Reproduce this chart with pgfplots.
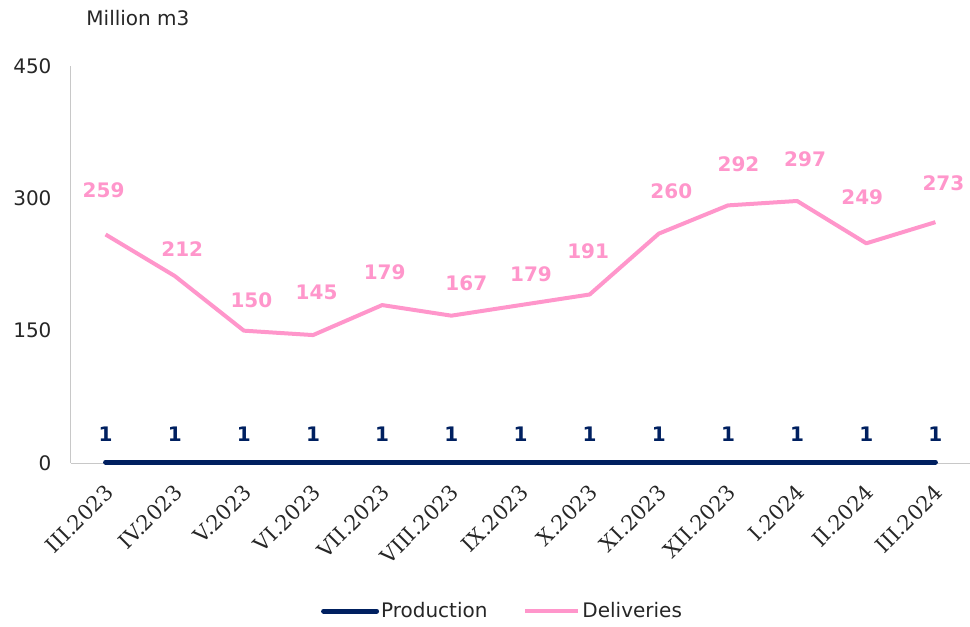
\documentclass[border=0pt]{standalone}
\usepackage{fontspec}
\setmainfont{DejaVu Sans}
\newfontfamily\serifx{DejaVu Serif}
\usepackage{pgfplots}
\pgfplotsset{compat=1.18}
\definecolor{cPink}{HTML}{FF96CB}
\definecolor{cNavy}{HTML}{002060}
\definecolor{cAx}{HTML}{C8C8C8}
\definecolor{cInk}{HTML}{262626}
\newcommand{\bigtxt}{\fontsize{20}{24}\selectfont}
\tikzset{dl/.style={font=\bigtxt\bfseries, text=cPink}}

\begin{document}
\begin{tikzpicture}
\begin{axis}[
  scale only axis, width=899pt, height=397pt,
  xmin=-0.5, xmax=12.5, ymin=0, ymax=450,
  axis x line=bottom, axis y line=left,
  axis line style={-, draw=cAx, line width=1pt},
  major tick length=0pt,
  ytick={0,150,300,450},
  y tick label style={font=\bigtxt, color=cInk, xshift=-16pt},
  /pgf/number format/assume math mode=true,
  xtick={0,...,12},
  xticklabels={III.2023,IV.2023,V.2023,VI.2023,VII.2023,VIII.2023,IX.2023,X.2023,XI.2023,XII.2023,I.2024,II.2024,III.2024},
  x tick label style={xshift=-2pt, yshift=-20pt, rotate=45, anchor=north east, inner sep=0pt,
    font=\serifx\fontsize{21}{25}\selectfont, color=cInk},
  legend style={at={(0.48,-0.373)}, anchor=center, draw=none, fill=none,
    legend columns=2, font=\bigtxt, text=cInk,
    /tikz/every even column/.append style={column sep=34pt}},
  legend image code/.code={\draw[#1] (0pt,0pt) -- (53pt,0pt);},
  clip=false,
]
\coordinate (bl) at (rel axis cs:0,0);
\addplot[cNavy, line width=5pt, line cap=round] coordinates {
  (0,1) (1,1) (2,1) (3,1) (4,1) (5,1) (6,1) (7,1) (8,1) (9,1) (10,1) (11,1) (12,1)};
\addlegendentry{Production}
\addplot[cPink, line width=4pt, line join=round] coordinates {
  (0,259) (1,212) (2,150) (3,145) (4,179) (5,167) (6,179) (7,191) (8,260) (9,292) (10,297) (11,249) (12,273)};
\addlegendentry{Deliveries}
% production labels
\pgfplotsinvokeforeach{0,...,12}{
  \node[font=\bigtxt\bfseries, text=cNavy, yshift=28pt] at (axis cs:#1,1) {1};
}
% delivery labels
\node[dl, xshift=-2pt,  yshift=44pt]   at (axis cs:0,259) {259};
\node[dl, xshift=7.5pt, yshift=26.5pt] at (axis cs:1,212) {212};
\node[dl, xshift=7.5pt, yshift=30pt]   at (axis cs:2,150) {150};
\node[dl, xshift=3.5pt, yshift=42.6pt] at (axis cs:3,145) {145};
\node[dl, xshift=2.5pt, yshift=32.6pt] at (axis cs:4,179) {179};
\node[dl, xshift=15pt,  yshift=32.2pt] at (axis cs:5,167) {167};
\node[dl, xshift=10.5pt,yshift=30.6pt] at (axis cs:6,179) {179};
\node[dl, xshift=-1.5pt,yshift=43pt]   at (axis cs:7,191) {191};
\node[dl, xshift=12.5pt,yshift=42pt]   at (axis cs:8,260) {260};
\node[dl, xshift=10.5pt,yshift=41.4pt] at (axis cs:9,292) {292};
\node[dl, xshift=8pt,   yshift=42pt]   at (axis cs:10,297) {297};
\node[dl, xshift=-4pt,  yshift=46.3pt] at (axis cs:11,249) {249};
\node[dl, xshift=8pt,   yshift=39.2pt] at (axis cs:12,273) {273};
\node[font=\bigtxt, text=cInk] at (rel axis cs:0.0745,1.121) {Million m3};
\end{axis}
\pgfresetboundingbox
\useasboundingbox ([shift={(-71pt,-164pt)}]bl) rectangle ([shift={(899pt,463pt)}]bl);
\end{tikzpicture}
\end{document}
